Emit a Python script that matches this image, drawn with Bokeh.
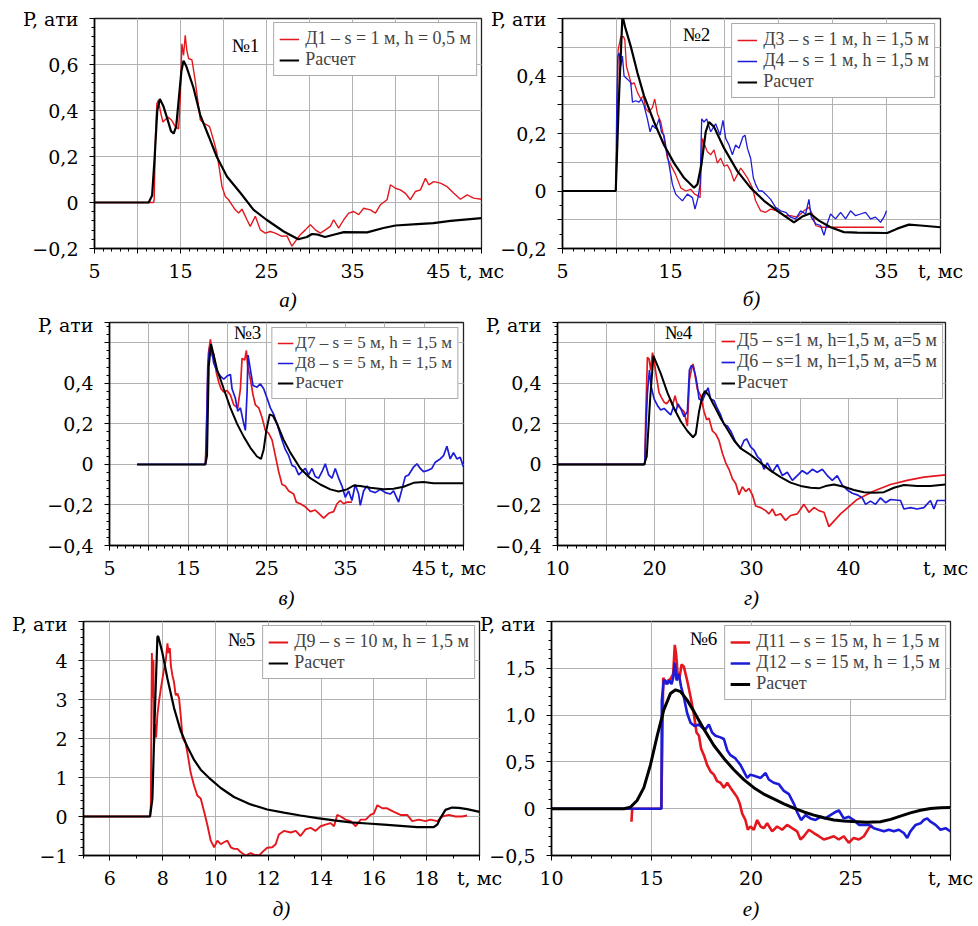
import numpy as np
from bokeh.plotting import figure
from bokeh.models import Range1d, FixedTicker, CustomJSTickFormatter, Label, Title, LinearAxis, Grid
from bokeh.layouts import column, row
from bokeh.embed import file_html
from bokeh.resources import INLINE

RED = "#e3171d"
BLUE = "#1b1bd8"
BLACK = "#000000"
FONT = "Liberation Serif"
AXFONT = "DejaVu Serif"

# ---------------- data (t, ms ; P, ati) ----------------
P1_CALC = [(5, 0), (11.3, 0), (11.7, 0.03), (12.0, 0.2), (12.3, 0.40), (12.6, 0.45), (13.0, 0.42), (13.5, 0.36),
           (13.9, 0.31), (14.2, 0.30), (14.5, 0.33), (14.8, 0.45), (15.1, 0.57), (15.35, 0.616), (15.7, 0.59),
           (16.5, 0.50), (17.3, 0.38), (18.3, 0.286), (19.2, 0.20), (20.4, 0.113), (22.0, 0.04), (23.5, -0.032),
           (25.0, -0.075), (27.0, -0.126), (28.7, -0.16), (29.7, -0.15), (30.3, -0.137), (31.0, -0.14),
           (31.8, -0.15), (32.8, -0.14), (34.0, -0.129), (36.7, -0.13), (38.6, -0.111), (40.0, -0.10),
           (42.5, -0.094), (44.4, -0.09), (46.4, -0.08), (50, -0.068)]
P1_D1 = [(5, 0), (11.87, 0), (11.94, 0.012), (12.1, 0.30), (12.25, 0.43), (12.45, 0.445), (12.64, 0.40),
         (12.95, 0.35), (13.22, 0.36), (13.61, 0.37), (14.0, 0.356), (14.39, 0.33), (14.78, 0.32), (14.97, 0.445),
         (15.16, 0.69), (15.36, 0.64), (15.55, 0.727), (15.74, 0.66), (15.94, 0.626), (16.33, 0.62), (16.71, 0.53),
         (17.10, 0.416), (17.30, 0.36), (17.68, 0.344), (18.07, 0.337), (18.38, 0.33), (18.85, 0.27), (19.24, 0.214),
         (19.55, 0.14), (19.82, 0.07), (20.21, 0.026), (20.59, 0.012), (20.98, -0.01), (21.37, -0.032),
         (21.76, -0.046), (22.15, -0.029), (22.73, -0.075), (23.11, -0.104), (23.70, -0.06), (24.28, -0.119),
         (24.86, -0.133), (25.44, -0.126), (26.02, -0.133), (26.80, -0.147), (27.38, -0.145), (27.96, -0.19),
         (28.35, -0.169), (28.93, -0.14), (29.52, -0.119), (30.10, -0.097), (30.68, -0.119), (31.26, -0.133),
         (31.84, -0.119), (32.42, -0.104), (32.81, -0.075), (33.39, -0.111), (33.98, -0.075), (34.56, -0.046),
         (35.14, -0.039), (35.72, -0.053), (36.30, -0.025), (37.08, -0.032), (37.66, -0.046), (38.24, -0.01),
         (39.02, 0.012), (39.41, 0.077), (39.99, 0.062), (40.57, 0.055), (41.15, 0.04), (41.73, 0.012),
         (42.32, 0.048), (42.90, 0.055), (43.48, 0.105), (43.87, 0.077), (44.45, 0.091), (45.23, 0.084),
         (46.0, 0.069), (46.78, 0.04), (47.55, 0.014), (48.33, 0.033), (49.10, 0.019), (50.0, 0.014)]

P2_CALC = [(5, 0), (9.93, 0), (10.2, 0.30), (10.55, 0.61), (10.8, 0.57), (11.32, 0.503), (11.94, 0.411),
           (12.55, 0.331), (13.48, 0.24), (14.40, 0.16), (15.33, 0.097), (16.25, 0.046), (17.18, 0.011),
           (17.49, 0.023), (17.86, 0.091), (18.26, 0.206), (18.57, 0.24), (19.03, 0.223), (19.96, 0.149),
           (21.19, 0.069), (22.42, 0.011), (23.66, -0.034), (24.89, -0.069), (26.43, -0.109), (27.20, -0.089),
           (27.91, -0.078), (28.74, -0.103), (29.82, -0.126), (31.06, -0.143), (32.29, -0.145), (35.07, -0.146),
           (35.99, -0.131), (37.07, -0.117), (38.15, -0.12), (40, -0.126)]
P2_D3 = [(5, 0), (9.93, 0), (10.03, 0.114), (10.15, 0.491), (10.40, 0.537), (10.64, 0.537), (10.77, 0.526),
         (10.92, 0.434), (11.17, 0.40), (11.38, 0.371), (11.63, 0.377), (11.94, 0.343), (12.25, 0.32),
         (12.49, 0.331), (12.71, 0.286), (13.02, 0.274), (13.33, 0.291), (13.54, 0.32), (13.79, 0.269),
         (14.10, 0.24), (14.40, 0.183), (14.71, 0.114), (15.02, 0.091), (15.48, 0.057), (15.95, 0.011),
         (16.41, 0.0), (16.87, 0.006), (17.24, -0.011), (17.55, -0.017), (17.74, -0.023), (17.95, 0.183),
         (18.17, 0.16), (18.41, 0.137), (18.72, 0.126), (19.03, 0.143), (19.34, 0.097), (19.65, 0.114),
         (19.96, 0.086), (20.26, 0.091), (20.57, 0.069), (20.88, 0.034), (21.19, 0.057), (21.50, 0.08),
         (21.81, 0.063), (22.12, 0.046), (22.58, 0.011), (22.88, -0.034), (23.35, -0.069), (23.81, -0.074),
         (24.27, -0.063), (24.89, -0.069), (25.51, -0.086), (26.12, -0.086), (26.74, -0.091), (27.36, -0.069),
         (27.82, -0.057), (28.13, -0.08), (28.44, -0.12), (28.90, -0.126), (30.13, -0.126), (32.29, -0.126),
         (34.76, -0.126)]
P2_D4 = [(5, 0), (9.93, 0), (10.03, 0.32), (10.12, 0.469), (10.24, 0.48), (10.40, 0.434), (10.55, 0.469),
         (10.70, 0.40), (11.01, 0.389), (11.32, 0.377), (11.48, 0.309), (11.78, 0.314), (12.09, 0.309),
         (12.31, 0.32), (12.55, 0.297), (12.86, 0.251), (13.11, 0.206), (13.33, 0.229), (13.63, 0.217),
         (13.94, 0.251), (14.16, 0.206), (14.40, 0.194), (14.65, 0.137), (14.87, 0.091), (15.18, 0.023),
         (15.48, -0.011), (15.79, -0.023), (16.10, -0.034), (16.56, -0.011), (17.03, -0.023), (17.27, -0.063),
         (17.55, -0.023), (17.74, 0.023), (17.89, 0.251), (18.10, 0.24), (18.35, 0.251), (18.72, 0.206),
         (19.18, 0.234), (19.59, 0.194), (19.86, 0.246), (20.11, 0.183), (20.42, 0.16), (20.73, 0.126),
         (21.03, 0.16), (21.34, 0.149), (21.71, 0.189), (21.90, 0.194), (22.12, 0.149), (22.42, 0.114),
         (22.67, 0.046), (22.88, 0.023), (23.19, 0.0), (23.50, 0.0), (23.81, -0.011), (24.27, -0.029),
         (24.73, -0.057), (25.20, -0.069), (25.66, -0.074), (26.12, -0.091), (26.59, -0.097), (27.05, -0.069),
         (27.51, -0.08), (27.82, -0.029), (28.03, -0.091), (28.44, -0.114), (28.90, -0.12), (29.21, -0.154),
         (29.51, -0.114), (29.82, -0.08), (30.28, -0.097), (30.75, -0.074), (31.21, -0.097), (31.67, -0.069),
         (32.14, -0.086), (32.60, -0.08), (33.06, -0.074), (33.52, -0.097), (33.99, -0.091), (34.45, -0.109),
         (34.76, -0.091), (35.0, -0.069)]

P3_CALC = [(8.51, 0), (17.19, 0), (17.40, 0.043), (17.62, 0.483), (17.91, 0.594), (18.67, 0.468), (19.52, 0.373),
           (20.37, 0.279), (21.22, 0.20), (22.06, 0.137), (22.91, 0.082), (23.75, 0.039), (24.26, 0.027),
           (24.60, 0.074), (24.94, 0.168), (25.36, 0.247), (25.79, 0.239), (26.30, 0.2), (27.14, 0.121),
           (27.99, 0.058), (29.26, -0.02), (30.53, -0.068), (31.80, -0.099), (33.07, -0.123), (34.13, -0.134),
           (35.19, -0.123), (36.03, -0.104), (36.88, -0.107), (38.15, -0.115), (39.84, -0.123), (41.11, -0.12),
           (42.38, -0.11), (43.65, -0.091), (44.92, -0.087), (46.19, -0.093), (50.0, -0.093)]
P3_D7 = [(17.19, 0), (17.40, 0.294), (17.57, 0.546), (17.83, 0.617), (18.08, 0.531), (18.25, 0.546),
         (18.59, 0.452), (18.89, 0.405), (19.18, 0.373), (19.52, 0.357), (19.94, 0.365), (20.37, 0.342),
         (20.79, 0.294), (21.30, 0.279), (21.64, 0.373), (21.85, 0.523), (22.19, 0.515), (22.40, 0.562),
         (22.57, 0.483), (22.91, 0.42), (23.25, 0.342), (23.54, 0.294), (23.97, 0.279), (24.39, 0.231),
         (24.81, 0.168), (25.24, 0.153), (25.66, 0.121), (26.08, 0.043), (26.51, -0.036), (26.93, -0.099),
         (27.35, -0.107), (27.78, -0.131), (28.41, -0.146), (28.75, -0.186), (29.26, -0.194), (29.89, -0.209),
         (30.53, -0.233), (31.16, -0.225), (31.80, -0.249), (32.22, -0.265), (32.86, -0.241), (33.49, -0.233),
         (33.92, -0.194), (34.34, -0.178), (34.76, -0.194), (35.19, -0.186), (35.82, -0.186)]
P3_D8 = [(8.51, 0), (17.19, 0), (17.32, 0.106), (17.49, 0.483), (17.74, 0.578), (18.0, 0.562), (18.25, 0.499),
         (18.67, 0.46), (19.10, 0.436), (19.52, 0.42), (19.94, 0.436), (20.37, 0.444), (20.58, 0.373),
         (21.0, 0.326), (21.30, 0.263), (21.64, 0.279), (21.98, 0.216), (22.27, 0.168), (22.49, 0.357),
         (22.61, 0.539), (22.91, 0.468), (23.25, 0.389), (23.75, 0.381), (24.18, 0.397), (24.60, 0.373),
         (25.03, 0.326), (25.45, 0.279), (25.87, 0.247), (26.30, 0.2), (26.72, 0.145), (27.06, 0.106),
         (27.35, 0.074), (27.78, 0.043), (28.20, -0.005), (28.62, -0.013), (29.05, -0.052), (29.47, -0.036),
         (29.89, -0.02), (30.32, -0.052), (30.74, -0.02), (31.16, -0.06), (31.59, -0.068), (32.01, -0.036),
         (32.43, 0.003), (32.86, -0.052), (33.28, -0.068), (33.70, -0.02), (34.13, -0.068), (34.55, -0.107),
         (34.97, -0.162), (35.40, -0.131), (35.82, -0.178), (36.24, -0.099), (36.67, -0.146), (36.88, -0.202),
         (37.30, -0.131), (37.73, -0.107), (38.15, -0.131), (38.79, -0.139), (39.42, -0.123), (40.06, -0.139),
         (40.69, -0.146), (41.11, -0.131), (41.75, -0.186), (42.17, -0.123), (42.60, -0.060), (43.02, -0.052),
         (43.65, -0.013), (44.08, 0.003), (44.50, -0.02), (44.92, -0.036), (45.56, -0.028), (45.98, -0.02),
         (46.41, 0.011), (47.04, 0.027), (47.46, 0.043), (47.89, 0.09), (48.31, 0.027), (48.73, 0.058),
         (49.16, 0.027), (49.58, 0.035), (50.0, -0.013)]

P4_CALC = [(10, 0), (18.93, 0), (19.20, 0.039), (19.55, 0.323), (19.89, 0.535), (20.64, 0.449), (21.33, 0.354),
           (22.02, 0.276), (22.70, 0.213), (23.39, 0.165), (23.97, 0.134), (24.25, 0.15), (24.59, 0.26),
           (24.94, 0.339), (25.21, 0.362), (25.62, 0.339), (26.14, 0.291), (26.82, 0.228), (27.51, 0.173),
           (28.20, 0.118), (28.88, 0.079), (29.91, 0.047), (30.94, 0.008), (31.97, -0.031), (33.0, -0.063),
           (34.03, -0.09), (35.06, -0.106), (36.09, -0.115), (36.95, -0.118), (37.64, -0.107), (38.50, -0.099),
           (39.53, -0.11), (40.56, -0.126), (41.59, -0.137), (42.62, -0.14), (43.65, -0.137), (44.68, -0.115),
           (45.71, -0.102), (47.08, -0.106), (48.45, -0.107), (50.0, -0.099)]
P4_D5 = [(10, 0), (19.0, 0), (19.10, 0.244), (19.27, 0.528), (19.44, 0.52), (19.61, 0.465), (19.79, 0.551),
         (19.96, 0.512), (20.20, 0.433), (20.47, 0.354), (20.71, 0.331), (20.99, 0.307), (21.26, 0.299),
         (21.61, 0.323), (21.85, 0.291), (22.12, 0.339), (22.36, 0.291), (22.70, 0.276), (23.05, 0.26),
         (23.39, 0.189), (23.60, 0.417), (23.80, 0.465), (23.97, 0.496), (24.15, 0.449), (24.42, 0.37),
         (24.76, 0.339), (25.11, 0.26), (25.38, 0.22), (25.62, 0.228), (25.97, 0.165), (26.31, 0.15),
         (26.65, 0.118), (27.0, 0.055), (27.34, 0.008), (27.68, -0.024), (28.03, -0.071), (28.37, -0.094),
         (28.71, -0.15), (29.06, -0.110), (29.40, -0.134), (29.74, -0.118), (30.09, -0.15), (30.43, -0.205),
         (30.94, -0.213), (31.46, -0.228), (31.80, -0.244), (32.15, -0.22), (32.49, -0.252), (33.0, -0.244),
         (33.52, -0.276), (34.03, -0.252), (34.72, -0.244), (35.41, -0.197), (35.92, -0.236), (36.44, -0.213),
         (36.95, -0.228), (37.47, -0.236), (37.98, -0.307), (39.18, -0.244), (40.90, -0.173), (42.62, -0.131),
         (44.33, -0.099), (46.05, -0.079), (47.77, -0.063), (50.0, -0.052)]
P4_D6 = [(10, 0), (19.0, 0), (19.13, 0.197), (19.27, 0.354), (19.48, 0.465), (19.65, 0.386), (19.96, 0.323),
         (20.30, 0.291), (20.64, 0.268), (20.99, 0.276), (21.33, 0.26), (21.67, 0.244), (21.95, 0.283),
         (22.19, 0.26), (22.43, 0.299), (22.70, 0.276), (23.05, 0.236), (23.39, 0.26), (23.60, 0.465),
         (23.80, 0.488), (24.01, 0.48), (24.25, 0.433), (24.42, 0.386), (24.59, 0.323), (24.94, 0.315),
         (25.28, 0.354), (25.52, 0.378), (25.79, 0.323), (26.14, 0.315), (26.48, 0.276), (26.82, 0.244),
         (27.17, 0.197), (27.51, 0.189), (27.85, 0.165), (28.37, 0.11), (28.88, 0.079), (29.23, 0.118),
         (29.50, 0.126), (29.91, 0.087), (30.26, 0.071), (30.60, 0.039), (30.94, 0.024), (31.29, -0.024),
         (31.63, 0.008), (32.15, -0.039), (32.66, 0.0), (33.18, -0.055), (33.69, -0.039), (34.21, -0.079),
         (34.72, -0.055), (35.24, -0.031), (35.75, -0.047), (36.27, -0.024), (36.78, -0.039), (37.30, -0.024),
         (37.81, -0.055), (38.33, -0.079), (38.84, -0.055), (39.36, -0.102), (39.87, -0.126), (40.39, -0.142),
         (40.90, -0.15), (41.42, -0.165), (41.76, -0.197), (42.27, -0.181), (42.79, -0.197), (43.30, -0.165),
         (43.82, -0.189), (44.33, -0.173), (45.36, -0.178), (45.71, -0.22), (46.39, -0.213), (47.08, -0.22),
         (47.77, -0.213), (48.45, -0.178), (48.80, -0.22), (49.14, -0.178), (50.0, -0.178)]

P5_CALC = [(5, 0), (7.52, 0), (7.61, 0.46), (7.70, 2.61), (7.80, 4.61), (7.83, 4.62), (7.99, 4.19), (8.18, 3.53),
           (8.43, 2.78), (8.68, 2.20), (8.94, 1.78), (9.19, 1.45), (9.44, 1.20), (9.82, 0.95), (10.20, 0.73),
           (10.70, 0.50), (11.33, 0.31), (11.96, 0.18), (12.59, 0.10), (13.22, 0.025), (13.86, -0.04),
           (14.49, -0.10), (15.12, -0.15), (15.75, -0.18), (16.38, -0.21), (17.01, -0.24), (17.64, -0.27),
           (18.27, -0.27), (18.40, -0.21), (18.52, -0.04), (18.71, 0.17), (18.96, 0.23), (19.22, 0.22),
           (19.53, 0.19), (20.0, 0.12)]
P5_D9 = [(5, 0), (7.52, 0), (7.55, 0.29), (7.59, 4.19), (7.62, 3.03), (7.65, 4.02), (7.67, 1.78), (7.71, 2.37),
         (7.75, 2.03), (7.80, 2.61), (7.86, 2.95), (7.93, 3.28), (7.99, 3.53), (8.05, 3.78), (8.12, 4.02),
         (8.18, 4.44), (8.22, 4.19), (8.27, 4.32), (8.31, 3.86), (8.37, 3.61), (8.43, 3.44), (8.49, 3.11),
         (8.56, 3.15), (8.62, 3.03), (8.68, 2.61), (8.75, 2.03), (8.81, 1.95), (8.87, 1.87), (8.94, 1.62),
         (9.0, 1.37), (9.06, 1.12), (9.19, 0.79), (9.31, 0.54), (9.44, 0.46), (9.57, 0.12), (9.69, -0.21),
         (9.82, -0.62), (9.95, -0.79), (10.07, -0.62), (10.20, -0.71), (10.32, -0.66), (10.45, -0.62),
         (10.58, -0.79), (10.70, -0.83), (10.83, -0.83), (10.95, -0.91), (11.14, -1.0), (11.33, -0.94),
         (11.46, -0.98), (11.65, -1.0), (11.84, -0.87), (11.96, -0.80), (12.15, -0.79), (12.28, -0.71),
         (12.40, -0.46), (12.59, -0.37), (12.85, -0.41), (13.04, -0.37), (13.22, -0.50), (13.41, -0.33),
         (13.60, -0.29), (13.79, -0.37), (13.98, -0.25), (14.17, -0.21), (14.36, -0.17), (14.49, -0.25),
         (14.61, 0.04), (14.74, 0.0), (14.93, -0.08), (15.12, -0.12), (15.31, -0.25), (15.50, -0.08),
         (15.69, -0.08), (15.87, 0.04), (16.0, 0.08), (16.13, 0.29), (16.32, 0.21), (16.50, 0.21), (16.76, 0.12),
         (17.01, 0.04), (17.26, 0.04), (17.45, -0.12), (17.70, -0.08), (17.96, -0.12), (18.14, -0.08),
         (18.40, -0.12), (18.59, 0.0), (18.84, 0.04), (19.09, 0.0), (19.34, 0.0), (19.53, 0.025)]

P6_CALC = [(10, 0), (13.63, 0), (13.96, 0.017), (14.29, 0.087), (14.63, 0.225), (14.96, 0.468), (15.30, 0.78),
           (15.63, 1.056), (15.96, 1.23), (16.22, 1.27), (16.47, 1.25), (16.80, 1.16), (17.13, 1.04),
           (17.64, 0.85), (18.14, 0.675), (18.64, 0.537), (19.14, 0.416), (19.64, 0.31), (20.14, 0.225),
           (20.64, 0.156), (21.14, 0.104), (21.65, 0.052), (22.15, 0.007), (22.65, -0.035), (23.15, -0.069),
           (23.65, -0.097), (24.15, -0.121), (24.65, -0.132), (25.32, -0.139), (25.82, -0.145), (26.49, -0.139),
           (27.0, -0.114), (27.49, -0.08), (27.99, -0.045), (28.50, -0.017), (29.0, 0.003), (29.50, 0.01),
           (30.0, 0.014)]
P6_D11 = [(14.01, -0.139), (14.04, -0.017), (14.09, 0.0), (15.50, 0.0), (15.55, 0.61), (15.60, 1.40),
          (15.66, 1.37), (15.75, 1.33), (15.85, 1.37), (15.96, 1.385), (16.10, 1.44), (16.18, 1.75),
          (16.25, 1.645), (16.33, 1.42), (16.42, 1.40), (16.52, 1.54), (16.63, 1.52), (16.80, 1.37),
          (16.97, 1.195), (17.13, 1.02), (17.27, 0.814), (17.39, 0.78), (17.50, 0.64), (17.64, 0.572),
          (17.80, 0.468), (17.97, 0.398), (18.14, 0.364), (18.30, 0.294), (18.47, 0.277), (18.64, 0.225),
          (18.81, 0.277), (18.97, 0.225), (19.14, 0.173), (19.31, 0.121), (19.44, 0.052), (19.56, -0.052),
          (19.72, -0.121), (19.84, -0.225), (19.97, -0.19), (20.14, -0.225), (20.31, -0.121), (20.48, -0.19),
          (20.64, -0.208), (20.81, -0.156), (21.06, -0.242), (21.31, -0.19), (21.56, -0.225), (21.81, -0.173),
          (22.06, -0.208), (22.31, -0.242), (22.48, -0.329), (22.65, -0.294), (22.90, -0.225), (23.15, -0.26),
          (23.40, -0.294), (23.65, -0.329), (23.90, -0.312), (24.15, -0.294), (24.40, -0.329), (24.65, -0.294),
          (24.90, -0.364), (25.15, -0.312), (25.41, -0.329), (25.66, -0.294), (25.91, -0.208), (26.07, -0.173)]
P6_D12 = [(10, 0), (15.51, 0), (15.53, 1.16), (15.58, 1.265), (15.63, 1.37), (15.71, 1.37), (15.80, 1.33),
          (15.91, 1.37), (16.02, 1.33), (16.10, 1.40), (16.18, 1.56), (16.27, 1.37), (16.38, 1.44), (16.50, 1.30),
          (16.63, 1.195), (16.80, 1.02), (16.97, 0.918), (17.17, 0.883), (17.39, 0.90), (17.55, 0.866),
          (17.72, 0.85), (17.89, 0.90), (18.05, 0.814), (18.22, 0.78), (18.47, 0.762), (18.64, 0.745),
          (18.81, 0.623), (18.97, 0.572), (19.22, 0.537), (19.47, 0.468), (19.64, 0.398), (19.81, 0.329),
          (19.97, 0.364), (20.23, 0.346), (20.48, 0.329), (20.73, 0.381), (20.89, 0.312), (21.14, 0.277),
          (21.40, 0.26), (21.65, 0.19), (21.90, 0.156), (22.15, 0.052), (22.31, -0.035), (22.51, -0.121),
          (22.73, -0.069), (22.98, -0.104), (23.23, -0.121), (23.48, -0.087), (23.73, -0.104), (23.98, -0.069),
          (24.24, -0.035), (24.40, -0.017), (24.65, -0.104), (24.90, -0.087), (25.15, -0.121), (25.41, -0.173),
          (25.66, -0.173), (25.91, -0.173), (26.16, -0.208), (26.41, -0.225), (26.66, -0.242), (26.91, -0.225),
          (27.16, -0.242), (27.41, -0.225), (27.66, -0.26), (27.83, -0.312), (27.99, -0.242), (28.25, -0.173),
          (28.50, -0.156), (28.66, -0.121), (28.83, -0.104), (29.0, -0.139), (29.25, -0.173), (29.50, -0.225),
          (29.75, -0.208), (30.0, -0.242)]

P1_XLAB = [5, 15, 25, 35, 45]
P1_YLAB = [-0.2, 0, 0.2, 0.4, 0.6]
P2_XLAB = [5, 15, 25, 35]
P2_YLAB = [-0.2, 0, 0.2, 0.4]
P3_XLAB = [5, 15, 25, 35, 45]
P3_YLAB = [-0.4, -0.2, 0, 0.2, 0.4]
P4_XLAB = [10, 20, 30, 40]
P4_YLAB = [-0.4, -0.2, 0, 0.2, 0.4]
P5_XLAB = [6, 8, 10, 12, 14, 16, 18]
P5_YLAB = [-1, 0, 1, 2, 3, 4]
P6_XLAB = [10, 15, 20, 25]
P6_YLAB = [-0.5, 0, 0.5, 1.0, 1.5]

X_NAME = "t, мс"
Y_NAME = "P, ати"

LEG1 = ["Д1 – s = 1 м, h = 0,5 м", "Расчет"]
LEG2 = ["Д3 – s = 1 м, h = 1,5 м", "Д4 – s = 1 м, h = 1,5 м", "Расчет"]
LEG3 = ["Д7 – s = 5 м, h = 1,5 м", "Д8 – s = 5 м, h = 1,5 м", "Расчет"]
LEG4 = ["Д5 – s=1 м, h=1,5 м, a=5 м", "Д6 – s=1 м, h=1,5 м, a=5 м", "Расчет"]
LEG5 = ["Д9 – s = 10 м, h = 1,5 м", "Расчет"]
LEG6 = ["Д11 – s = 15 м, h = 1,5 м", "Д12 – s = 15 м, h = 1,5 м", "Расчет"]


def steps(a, b, s):
    n = int(round((b - a) / s))
    return [round(a + i * s, 6) for i in range(n + 1)]


def fmt(labels, dec, spec_v, spec_s):
    return CustomJSTickFormatter(args=dict(labs=labels, dec=dec, sv=spec_v, ss=spec_s), code="""
        for (let i = 0; i < sv.length; i++) { if (Math.abs(sv[i] - tick) < 1e-6) return ss[i]; }
        let show = false;
        for (const v of labs) { if (Math.abs(v - tick) < 1e-6) { show = true; } }
        if (!show) return "";
        if (Math.abs(tick) < 1e-9) return "0";
        const s = Math.abs(tick).toFixed(dec).replace(".", ",");
        return tick < 0 ? "−" + s : s;
    """)


def split(pairs):
    return [a for a, b in pairs], [b for a, b in pairs]


def style_axis(ax, standoff):
    ax.axis_line_color = "black"
    ax.axis_line_width = 1.6
    ax.major_tick_line_color = "black"
    ax.minor_tick_line_color = "black"
    ax.major_tick_in = 0
    ax.major_tick_out = 5
    ax.minor_tick_in = 0
    ax.minor_tick_out = 3
    ax.major_label_text_font = AXFONT
    ax.major_label_text_font_size = "19px"
    ax.major_label_text_color = "black"
    ax.major_label_standoff = standoff


def make_panel(c):
    fx, fy, fw, fh = c["fig"]
    L, T, R, B = c["frame"]
    x0, x1 = c["xr"]
    y0, y1 = c["yr"]
    yt = c["yt"] if y1 in c["yt"] else c["yt"] + [y1]
    p = figure(width=fw, height=fh, x_range=Range1d(x0, x1), y_range=Range1d(y0, y1),
               output_backend="svg", toolbar_location=None, x_axis_location=None, y_axis_location=None,
               min_border_left=L - fx, min_border_right=fx + fw - R,
               min_border_top=T - fy, min_border_bottom=fy + fh - B,
               margin=(0, 0, 0, c["shift"]))
    p.background_fill_color = "white"
    p.border_fill_color = "white"
    p.border_fill_alpha = 0.0 if c["shift"] < 0 else 1.0
    p.outline_line_color = "#222222"
    p.outline_line_width = 1.3

    xax = LinearAxis(ticker=FixedTicker(ticks=c["xt"], minor_ticks=c["xm"]),
                     formatter=fmt(c["xlab"], 0, [x1], [X_NAME]))
    yax = LinearAxis(ticker=FixedTicker(ticks=yt, minor_ticks=c["ym"]),
                     formatter=fmt(c["ylab"], c["ydec"], [y1], [Y_NAME]))
    style_axis(xax, 6)
    style_axis(yax, 11)
    p.add_layout(xax, "below")
    p.add_layout(yax, "left")
    p.add_layout(Grid(dimension=0, ticker=xax.ticker, grid_line_color="#b2b2b2", grid_line_width=1))
    p.add_layout(Grid(dimension=1, ticker=yax.ticker, grid_line_color="#b2b2b2", grid_line_width=1))

    for pairs, color, lw, lab in c["series"]:
        t, v = split(pairs)
        p.line(t, v, line_color=color, line_width=lw, legend_label=lab)

    lg = p.legend[0]
    lg.location = "top_right"
    lg.margin = c["lmargin"]
    lg.padding = 5
    lg.spacing = 0
    lg.label_text_font = FONT
    lg.label_text_font_size = c["lfs"]
    lg.label_height = 20
    lg.glyph_height = 20
    lg.glyph_width = c["gw"]
    lg.label_standoff = c["gs"]
    lg.border_line_color = "#555555"
    lg.border_line_width = 1
    lg.background_fill_alpha = 1

    nx, ny = c["num"]
    p.add_layout(Label(x=nx - L, y=B - ny, x_units="screen", y_units="screen", text=c["numtext"],
                       text_font=FONT, text_font_size="19px", text_align="center",
                       text_baseline="alphabetic", text_color="black"))

    cap = Title(text=c["captext"], align="center", offset=c["capoff"], standoff=c["capstand"],
                text_font=FONT, text_font_size="21px", text_font_style="italic", text_color="black")
    p.add_layout(cap, "below")
    return p


LW = 505          # left column figure width
RX = 474          # right column figure left edge (overlaps the left figure's empty border)
RW = 978 - RX
SH = RX - LW      # negative CSS margin

panels = [
    dict(fig=(0, 0, LW, 313), frame=(94, 18, 481, 248), shift=0, xr=(5, 50), yr=(-0.2, 0.8),
         xt=steps(5, 50, 5), xm=steps(5, 50, 1), yt=steps(-0.2, 0.8, 0.2), ym=steps(-0.2, 0.8, 0.04),
         xlab=P1_XLAB, ylab=P1_YLAB, ydec=1,
         series=[(P1_D1, RED, 1.4, LEG1[0]), (P1_CALC, BLACK, 2.2, LEG1[1])],
         lmargin=4, gw=20, gs=6, lfs="18px", num=(245, 45), numtext="№1", captext="а)", capoff=1, capstand=3),
    dict(fig=(RX, 0, RW, 313), frame=(562, 17, 940, 252), shift=SH, xr=(5, 40), yr=(-0.2, 0.6),
         xt=steps(5, 40, 5), xm=steps(5, 40, 1), yt=steps(-0.2, 0.6, 0.1), ym=steps(-0.2, 0.6, 0.05),
         xlab=P2_XLAB, ylab=P2_YLAB, ydec=1,
         series=[(P2_D3, RED, 1.3, LEG2[0]), (P2_D4, BLUE, 1.3, LEG2[1]), (P2_CALC, BLACK, 2.2, LEG2[2])],
         lmargin=5, gw=20, gs=6, lfs="18px", num=(696, 38), numtext="№2", captext="б)", capoff=9, capstand=1),
    dict(fig=(0, 313, LW, 299), frame=(109, 321, 463, 554), shift=0, xr=(5, 50), yr=(-0.4, 0.7),
         xt=steps(5, 50, 5), xm=steps(5, 50, 1), yt=steps(-0.4, 0.6, 0.2), ym=steps(-0.4, 0.68, 0.04),
         xlab=P3_XLAB, ylab=P3_YLAB, ydec=1,
         series=[(P3_D7, RED, 1.7, LEG3[0]), (P3_D8, BLUE, 1.7, LEG3[1]), (P3_CALC, BLACK, 2.0, LEG3[2])],
         lmargin=5, gw=16, gs=2, lfs="17px", num=(247, 341), numtext="№3", captext="в)", capoff=2, capstand=5),
    dict(fig=(RX, 313, RW, 299), frame=(557, 322, 945, 553), shift=SH, xr=(10, 50), yr=(-0.4, 0.7),
         xt=steps(10, 50, 5), xm=steps(10, 50, 1), yt=steps(-0.4, 0.6, 0.2), ym=steps(-0.4, 0.68, 0.04),
         xlab=P4_XLAB, ylab=P4_YLAB, ydec=1,
         series=[(P4_D5, RED, 1.7, LEG4[0]), (P4_D6, BLUE, 1.7, LEG4[1]), (P4_CALC, BLACK, 2.0, LEG4[2])],
         lmargin=2, gw=14, gs=2, lfs="18px", num=(678, 340), numtext="№4", captext="г)", capoff=-3, capstand=5),
    dict(fig=(0, 612, LW, 312), frame=(83, 619, 479, 860), shift=0, xr=(5, 20), yr=(-1, 5),
         xt=steps(6, 20, 2), xm=steps(5, 20, 1), yt=steps(-1, 5, 1), ym=steps(-1, 5, 0.2),
         xlab=P5_XLAB, ylab=P5_YLAB, ydec=0,
         series=[(P5_D9, RED, 1.9, LEG5[0]), (P5_CALC, BLACK, 2.2, LEG5[1])],
         lmargin=4, gw=20, gs=6, lfs="18px", num=(241, 644), numtext="№5", captext="д)", capoff=6, capstand=7),
    dict(fig=(RX, 612, RW, 312), frame=(551, 621, 950, 862), shift=SH, xr=(10, 30), yr=(-0.5, 2.0),
         xt=steps(10, 30, 5), xm=steps(10, 30, 1), yt=steps(-0.5, 2.0, 0.5), ym=steps(-0.5, 2.0, 0.1),
         xlab=P6_XLAB, ylab=P6_YLAB, ydec=1,
         series=[(P6_D11, RED, 2.6, LEG6[0]), (P6_D12, BLUE, 2.6, LEG6[1]), (P6_CALC, BLACK, 3.0, LEG6[2])],
         lmargin=4, gw=20, gs=6, lfs="18px", num=(703, 645), numtext="№6", captext="е)", capoff=-2, capstand=7),
]

figs = [make_panel(c) for c in panels]
layout = column(row(figs[0], figs[1]), row(figs[2], figs[3]), row(figs[4], figs[5]))

open("out.html", "w").write(file_html(layout, INLINE))
